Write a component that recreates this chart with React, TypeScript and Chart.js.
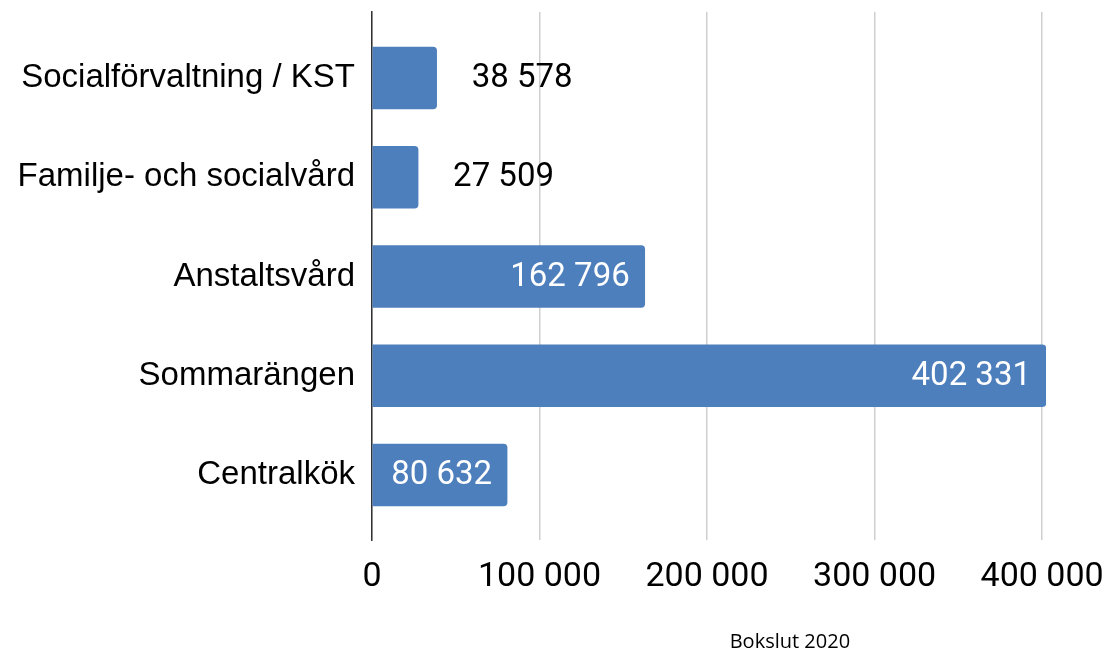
import React, { useEffect, useRef } from "react";
import { Chart, registerables } from "chart.js";

Chart.register(...registerables);

const categories: string[] = [
  "Socialförvaltning / KST",
  "Familje- och socialvård",
  "Anstaltsvård",
  "Sommarängen",
  "Centralkök",
];
const values: number[] = [38578, 27509, 162796, 402331, 80632];
const xTicks: number[] = [0, 100000, 200000, 300000, 400000];
const chartTitle = "Bokslut 2020";

const fmt = (v: number) => String(Math.round(v)).replace(/\B(?=(\d{3})+(?!\d))/g, " ");

const barColor = "#4e7fbd";

const labelPlugin = {
  id: "barLabels",
  afterDatasetsDraw(chart: any) {
    const ctx = chart.ctx;
    const meta = chart.getDatasetMeta(0);
    ctx.save();
    ctx.font = "33px Roboto";
    ctx.textBaseline = "middle";
    meta.data.forEach((bar: any, i: number) => {
      const text = fmt(values[i]);
      const w = ctx.measureText(text).width;
      const len = bar.x - bar.base;
      if (w + 30 < len) {
        ctx.fillStyle = "#ffffff";
        ctx.textAlign = "right";
        ctx.fillText(text, bar.x - 15, bar.y + 1);
      } else {
        ctx.fillStyle = "#000000";
        ctx.textAlign = "left";
        ctx.fillText(text, bar.x + 35, bar.y + 1);
      }
    });
    ctx.restore();
  },
};

const titlePlugin = {
  id: "bottomTitle",
  afterDraw(chart: any) {
    const { ctx, chartArea } = chart;
    ctx.save();
    ctx.font = "20px 'Open Sans'";
    ctx.fillStyle = "#000000";
    ctx.textAlign = "center";
    ctx.textBaseline = "middle";
    const x = chartArea.left + (chartArea.right - chartArea.left) * 0.62;
    ctx.fillText(chartTitle, x, chartArea.bottom + 102);
    ctx.restore();
  },
};

export default function App() {
  const ref = useRef<HTMLCanvasElement | null>(null);
  useEffect(() => {
    if (!ref.current) return;
    const chart = new Chart(ref.current, {
      type: "bar",
      data: {
        datasets: [
          {
            data: values.map((v, i) => ({ x: v, y: i })),
            backgroundColor: barColor,
            borderWidth: 0,
            borderRadius: 4,
            borderSkipped: "start",
            barThickness: 62,
          } as any,
        ],
      },
      options: {
        indexAxis: "y",
        animation: false,
        responsive: false,
        layout: { padding: { top: 12, right: 63, bottom: 0, left: 0 } },
        plugins: { legend: { display: false }, tooltip: { enabled: false } },
        scales: {
          x: {
            type: "linear",
            min: 0,
            max: 402331,
            offset: false,
            afterBuildTicks: (scale: any) => {
              scale.ticks = xTicks.map((v) => ({ value: v }));
            },
            afterFit: (scale: any) => {
              scale.height = 115;
              scale.paddingLeft = 0;
              scale.paddingRight = 0;
            },
            grid: { color: "#cfcfcf", lineWidth: 1.5, drawTicks: false },
            border: { display: false },
            ticks: {
              padding: 17,
              color: "#000000",
              font: { family: "Roboto", size: 34 },
              maxRotation: 0,
              callback: (v: any) => fmt(Number(v)),
            },
          },
          y: {
            type: "linear",
            reverse: true,
            offset: false,
            min: -0.665,
            max: 4.655,
            afterBuildTicks: (scale: any) => {
              scale.ticks = categories.map((_, i) => ({ value: i }));
            },
            afterFit: (scale: any) => {
              scale.width = 372;
              scale.paddingTop = 0;
              scale.paddingBottom = 0;
            },
            grid: { display: false, drawTicks: false, offset: false },
            border: { display: true, color: "#333333", width: 1.5 },
            ticks: {
              padding: 17,
              color: "#000000",
              font: { family: "'Liberation Sans', Arial", size: 33 },
              callback: (v: any) => categories[Number(v)] ?? "",
            },
          },
        },
      },
      plugins: [labelPlugin, titlePlugin],
    });
    return () => chart.destroy();
  }, []);
  return (
    <div style={{ position: "absolute", left: 0, top: 0, width: 1109, height: 655, background: "#fff" }}>
      <canvas ref={ref} width={1109} height={655} />
    </div>
  );
}
